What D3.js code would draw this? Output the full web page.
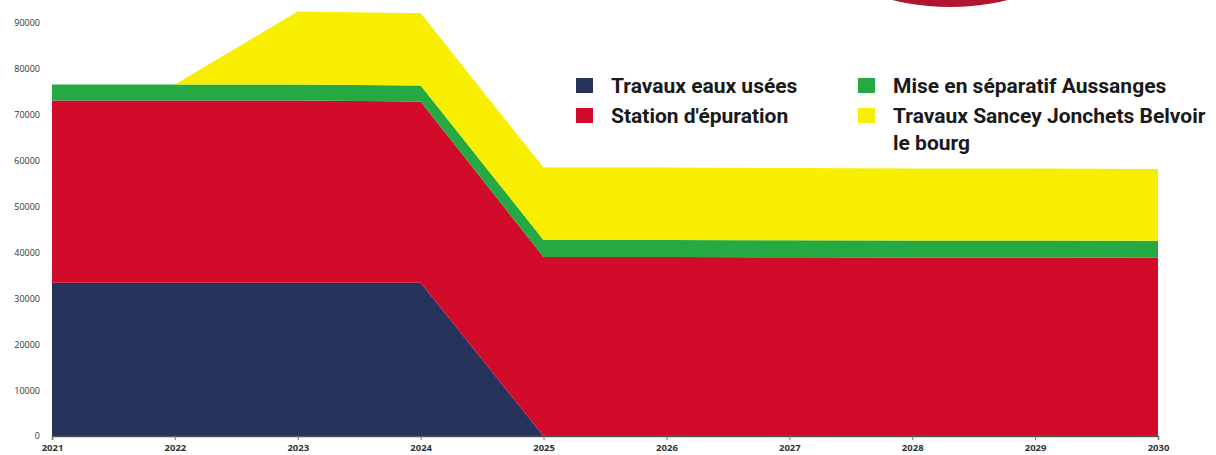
<!DOCTYPE html>
<html>
<head>
<meta charset="utf-8">
<script src="https://cdn.jsdelivr.net/npm/d3@7"></script>
<style>
  body { margin: 0; background: #fff; }
  svg { display: block; }
</style>
</head>
<body>
<div id="chart"></div>
<script>
// values (euros per year)
var years = [2021, 2022, 2023, 2024, 2025, 2026, 2027, 2028, 2029, 2030];
var eauxUsees = [33400, 33400, 33400, 33400, 0, 0, 0, 0, 0, 0];
var station = [39700, 39700, 39700, 39500, 39000, 39000, 38950, 38900, 38900, 38850];
var separatif = [3500, 3500, 3500, 3500, 3700, 3700, 3700, 3700, 3700, 3700];
var sancey = [0, 0, 15900, 15700, 15800, 15800, 15750, 15700, 15700, 15650];
var yTicks = [0, 10000, 20000, 30000, 40000, 50000, 60000, 70000, 80000, 90000];

var seriesNames = ["Travaux eaux usées", "Station d'épuration", "Mise en séparatif Aussanges", "Travaux Sancey Jonchets Belvoir le bourg"];
var colors = ["#27335a", "#d20b2b", "#25aa43", "#f7ee00"];

(function draw() {
    "use strict";
    var width = 1216, height = 455;
    var left = 52, right = 1158, top = 23, bottom = 436;

    var svg = d3.select("#chart").append("svg")
            .attr("width", width)
            .attr("height", height);

    // build rows for d3.stack
    var keys = ["a", "b", "c", "d"];
    var rows = years.map(function (y, i) {
        return {year: y, a: eauxUsees[i], b: station[i], c: separatif[i], d: sancey[i]};
    });
    var stacked = d3.stack().keys(keys)(rows);

    var x = d3.scaleLinear().domain([2021, 2030]).range([left, right]);
    var y = d3.scaleLinear().domain([0, 90000]).range([bottom, top]);

    var area = d3.area()
            .x(function (d) { return x(d.data.year); })
            .y0(function (d) { return y(d[0]); })
            .y1(function (d) { return y(d[1]); });

    svg.selectAll("path.layer")
            .data(stacked)
            .enter()
            .append("path")
            .attr("class", "layer")
            .attr("d", area)
            .attr("fill", function (d, i) { return colors[i]; });

    // bit of a red shape cut off at the top of the scan
    svg.append("ellipse")
            .attr("cx", 950).attr("cy", -42)
            .attr("rx", 112).attr("ry", 49)
            .attr("fill", "#b0152d");

    // x axis
    var xAxis = d3.axisBottom(x)
            .tickValues(years)
            .tickFormat(d3.format("d"))
            .tickSize(4)
            .tickPadding(4);
    var gx = svg.append("g")
            .attr("transform", "translate(0," + bottom + ")")
            .call(xAxis);
    gx.select(".domain").attr("stroke", "#555").attr("stroke-width", 1.5);
    gx.selectAll(".tick line").attr("stroke", "#777");
    gx.selectAll("text")
            .style("font-family", "Open Sans")
            .style("font-size", "9.5px")
            .style("font-weight", "bold")
            .style("fill", "#333");

    // y axis, labels only
    var yAxis = d3.axisLeft(y)
            .tickValues(yTicks)
            .tickFormat(d3.format("d"))
            .tickSize(0)
            .tickPadding(12);
    var gy = svg.append("g")
            .attr("transform", "translate(" + left + ",0)")
            .call(yAxis);
    gy.select(".domain").remove();
    gy.selectAll("text")
            .style("font-family", "Open Sans")
            .style("font-size", "9px")
            .style("fill", "#333");

    // legend, two columns
    var legendPos = [[576, 93], [576, 123], [858, 93], [858, 123]];
    var legend = svg.selectAll("g.legend")
            .data(seriesNames)
            .enter()
            .append("g")
            .attr("class", "legend")
            .attr("transform", function (d, i) {
                return "translate(" + legendPos[i][0] + "," + legendPos[i][1] + ")";
            });
    legend.append("rect")
            .attr("x", 0).attr("y", -15)
            .attr("width", 17).attr("height", 15)
            .attr("fill", function (d, i) { return colors[i]; });
    var txt = legend.append("text")
            .attr("x", 35)
            .attr("y", 0)
            .style("font-family", "Roboto")
            .style("font-weight", "bold")
            .style("font-size", "21px")
            .style("fill", "#1a1a1a");
    txt.each(function (d) {
        var t = d3.select(this);
        if (d.indexOf("Belvoir") > 0) {
            t.append("tspan").attr("x", 35).text("Travaux Sancey Jonchets Belvoir");
            t.append("tspan").attr("x", 35).attr("dy", 27).text("le bourg");
        } else {
            t.text(d);
        }
    });
})();
</script>
</body>
</html>
